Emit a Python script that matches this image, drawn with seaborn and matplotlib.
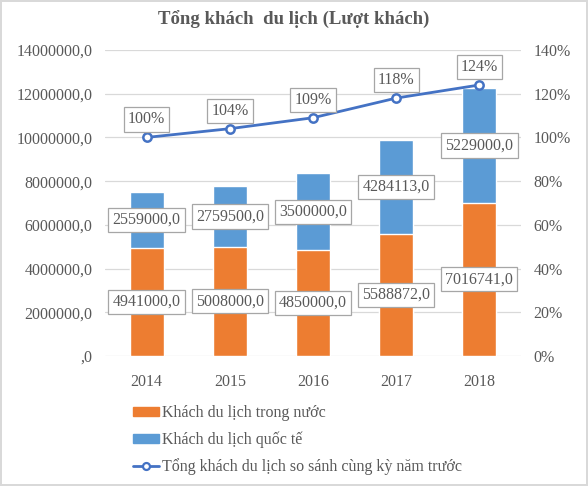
import numpy as np
import matplotlib
matplotlib.use("Agg")
import matplotlib.pyplot as plt
import matplotlib.patches as mpatches
from matplotlib.lines import Line2D
from matplotlib.ticker import FuncFormatter, MultipleLocator
import seaborn as sns

years = ["2014", "2015", "2016", "2017", "2018"]
domestic = [4941000, 5008000, 4850000, 5588872, 7016741]
international = [2559000, 2759500, 3500000, 4284113, 5229000]
growth = [1.00, 1.04, 1.09, 1.18, 1.24]
growth_labels = ["100%", "104%", "109%", "118%", "124%"]

orange = "#ED7D31"
blue = "#5B9BD5"
line_blue = "#4472C4"
text_gray = "#595959"

sns.set_theme(style="white")
plt.rcParams["font.family"] = ["Liberation Serif", "DejaVu Serif"]

fig = plt.figure(figsize=(5.88, 4.86), dpi=100)
fig.patch.set_edgecolor("#D9D9D9")
fig.patch.set_linewidth(1.5)
ax = fig.add_axes([105 / 588, 1 - 356 / 486, 416 / 588, 306 / 486])

totals = [d + i for d, i in zip(domestic, international)]
sns.barplot(x=years, y=totals, color=blue, width=0.41, saturation=1, ax=ax, zorder=2)
sns.barplot(x=years, y=domestic, color=orange, width=0.41, saturation=1, ax=ax, zorder=3)

ax.set_ylim(0, 14000000)
ax.set_xlim(-0.5, 4.5)
ax.yaxis.set_major_locator(MultipleLocator(2000000))
ax.yaxis.set_major_formatter(FuncFormatter(lambda v, p: ",0" if v == 0 else f"{int(v)},0"))
ax.grid(axis="y", color="#D9D9D9", lw=0.9)
ax.set_axisbelow(True)
ax.set_xlabel("")
ax.set_ylabel("")
for s in ax.spines.values():
    s.set_visible(False)
ax.tick_params(axis="x", length=0, pad=13, labelsize=11.5, labelcolor=text_gray)
ax.tick_params(axis="y", length=0, pad=9, labelsize=11.5, labelcolor=text_gray)

box = dict(boxstyle="square,pad=0.26", fc="white", ec="#A6A6A6", lw=0.9)
fmt = lambda v: f"{v:.1f}".replace(".", ",")
for k in range(len(years)):
    ax.text(k, domestic[k] / 2, fmt(domestic[k]), ha="center", va="center",
            fontsize=11.5, color=text_gray, bbox=box, zorder=5)
    ax.text(k, domestic[k] + international[k] / 2, fmt(international[k]), ha="center",
            va="center", fontsize=11.5, color=text_gray, bbox=box, zorder=5)

ax2 = ax.twinx()
sns.lineplot(x=np.arange(len(years)), y=growth, ax=ax2, color=line_blue, lw=2,
             marker="o", markersize=6, markerfacecolor="white", markeredgecolor=line_blue,
             markeredgewidth=1.8)
ax2.set_ylim(0, 1.4)
ax2.yaxis.set_major_locator(MultipleLocator(0.2))
ax2.yaxis.set_major_formatter(FuncFormatter(lambda v, p: f"{v * 100:.0f}%"))
ax2.tick_params(axis="y", length=0, pad=9, labelsize=11.5, labelcolor=text_gray)
ax2.set_ylabel("")
for s in ax2.spines.values():
    s.set_visible(False)
for k in range(len(years)):
    ax2.annotate(growth_labels[k], (k, growth[k]), xytext=(0, 18), textcoords="offset pixels",
                 ha="center", va="center", fontsize=11.5, color=text_gray, bbox=box)

fig.suptitle("Tổng khách  du lịch (Lượt khách)", x=0.5, y=1 - 20 / 486, va="center",
             fontsize=13.5, fontweight="bold", color=text_gray)

handles = [
    mpatches.Patch(color=orange, label="Khách du lịch trong nước"),
    mpatches.Patch(color=blue, label="Khách du lịch quốc tế"),
    Line2D([], [], color=line_blue, lw=2, marker="o", markersize=5, markerfacecolor="white",
           markeredgecolor=line_blue, markeredgewidth=1.6,
           label="Tổng khách du lịch so sánh cùng kỳ năm trước"),
]
leg = fig.legend(handles=handles, loc="upper left", bbox_to_anchor=(125 / 588, 1 - 397 / 486),
                 frameon=False, fontsize=11.5, handlelength=1.6, handleheight=0.5,
                 handletextpad=0.2, labelspacing=0.65, borderpad=0)
for t in leg.get_texts():
    t.set_color(text_gray)

fig.savefig("out.png", dpi=100, edgecolor=fig.get_edgecolor())
